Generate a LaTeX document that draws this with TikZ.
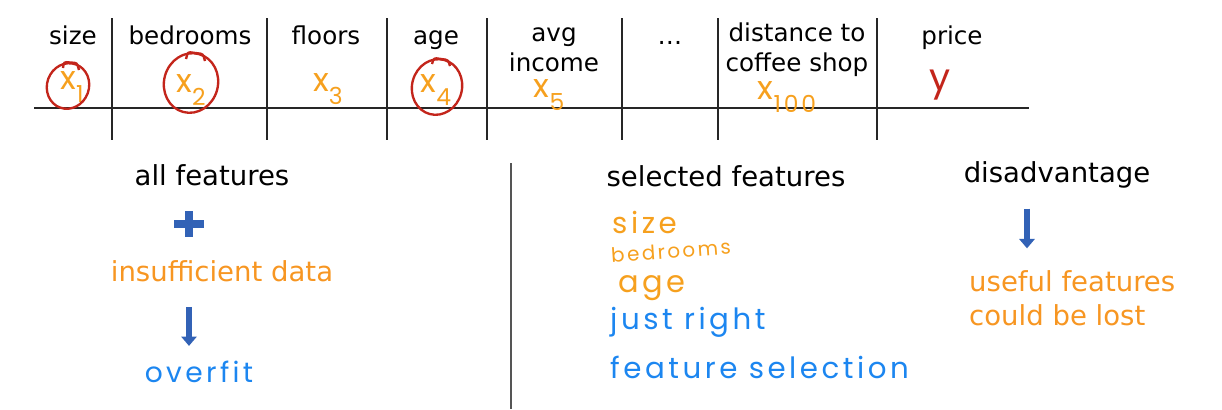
\documentclass[tikz,border=0pt]{standalone}
\usepackage{fontspec}
\setmainfont{DejaVu Sans}
\newfontfamily\handfont[LetterSpace = 12]{Poppins}
\usetikzlibrary{positioning}
\usetikzlibrary{arrows.meta}
\definecolor{inkorange}{HTML}{F6A01E}
\definecolor{textorange}{HTML}{F79622}
\definecolor{inkred}{HTML}{C3251B}
\definecolor{inkblue}{HTML}{1C86F0}
\definecolor{arrowblue}{HTML}{3262B6}
\definecolor{rulegray}{HTML}{555555}
\newcommand{\hsub}[2]{#1\raisebox{-0.4em}{\fontsize{20}{20}\selectfont #2}}

\begin{document}
\begin{tikzpicture}[x = 0.03cm, y = -0.03cm,
		head/.style = {font = \fontsize{21}{25.5}\selectfont, align = center, inner sep = 0pt},
		title/.style = {font = \fontsize{23.5}{29}\selectfont, align = left, inner sep = 0pt},
		hand/.style = {font = \handfont\fontsize{25}{29}\selectfont, inner sep = 0pt},
		var/.style = {hand, text = inkorange, font = \handfont\fontsize{28}{30}\selectfont},
		ring/.style = {draw = inkred, line width = 2pt},
		rule/.style = {draw = black!85, line width = 1.2pt},
		downarrow/.style = {draw = arrowblue, line width = 4.3pt, -{Triangle[width = 13pt, length = 8pt]}}]
	\useasboundingbox (0, 0) rectangle (1222, 409);
	\draw [rule] (34, 108) -- (1029, 108);
	\foreach \col in {112, 267, 387, 487, 622, 718, 877}
		\draw [rule] (\col, 18) -- (\col, 140);
	\node [head, anchor = base] (size) at (73, 44) {size};
	\node [head, anchor = base] (bedrooms) at (190, 44) {bedrooms};
	\node [head, anchor = base] (floors) at (326, 44) {floors};
	\node [head, anchor = base] (age) at (436, 44) {age};
	\node [head] (income) at (554, 50) {avg\\income};
	\node [head, anchor = base] (dots) at (670, 44) {\dots};
	\node [head] (coffee) at (797, 50) {distance to\\coffee shop};
	\node [head, anchor = base] (price) at (952, 44) {price};
	\node [var] (x1) at (72, 87) {\hsub{x}{1}};
	\node [var] (x2) at (191, 90) {\hsub{x}{2}};
	\node [var] (x3) at (328, 89) {\hsub{x}{3}};
	\node [var] (x4) at (436, 90) {\hsub{x}{4}};
	\node [var] (x5) at (549, 95) {\hsub{x}{5}};
	\node [var] (x100) at (787, 97) {\hsub{x}{100}};
	\node [hand, text = inkred, font = \handfont\fontsize{32}{32}\selectfont] (y) at (940, 85) {y};
	\draw [ring, rotate around = {-20 : (68, 86)}] (68, 86) ellipse (21 and 23);
	\draw [ring, rounded corners = 2pt] (63, 68) -- (64, 62) -- (77, 63) -- (79, 70);
	\draw [ring, rotate around = {-15 : (191, 83)}] (191, 83) ellipse (27 and 30);
	\draw [ring, rounded corners = 2pt] (186, 59) -- (188, 52) -- (203, 54) -- (205, 61);
	\draw [ring, rotate around = {-15 : (437, 87)}] (437, 87) ellipse (25 and 28);
	\draw [ring, rounded corners = 2pt] (432, 64) -- (434, 58) -- (448, 60) -- (450, 66);
	\node [title] (allfeat) at (212, 175) {all features};
	\coordinate (plus) at (189, 224);
	\draw [draw = arrowblue, line width = 6.5pt] ([xshift = -0.45cm] plus) -- ([xshift = 0.45cm] plus);
	\draw [draw = arrowblue, line width = 6.5pt] ([yshift = -0.38cm] plus) -- ([yshift = 0.38cm] plus);
	\node [title, text = textorange] (data) at (222, 271) {insufficient data};
	\node [hand, text = inkblue, font = \handfont\fontsize{24}{28}\selectfont] (overfit) at (199, 372) {overfit};
	\draw [downarrow, shorten <= 0.75cm, shorten >= 0.45cm] (data.south -| plus) -- (overfit.north -| plus);
	\draw [draw = rulegray, line width = 2.4pt] (511, 163) -- (511, 409);
	\node [title] (selected) at (726, 176) {selected features};
	\node [var, anchor = west, font = \handfont\fontsize{25}{29}\selectfont] (selsize) at (612, 222) {size};
	\node [var, anchor = west, rotate = 4, font = \handfont\fontsize{17}{20}\selectfont] (selbed) at (611, 255) {bedrooms};
	\node [var, anchor = west, font = \handfont\fontsize{26}{30}\selectfont] (selage) at (618, 288) {age};
	\node [hand, text = inkblue, anchor = west] (justright) at (610, 322) {just right};
	\node [hand, text = inkblue, anchor = west] (featsel) at (610, 367) {feature selection};
	\node [title] (disadv) at (1057, 175) {disadvantage};
	\node [title, text = textorange, anchor = north west] (lost) at (969, 270) {useful features\\could be lost};
	\draw [downarrow, shorten <= 0.6cm, shorten >= 0.65cm] ([xshift = -0.9cm] disadv.south) -- ([xshift = -0.9cm] disadv.south |- lost.north);
\end{tikzpicture}
\end{document}
